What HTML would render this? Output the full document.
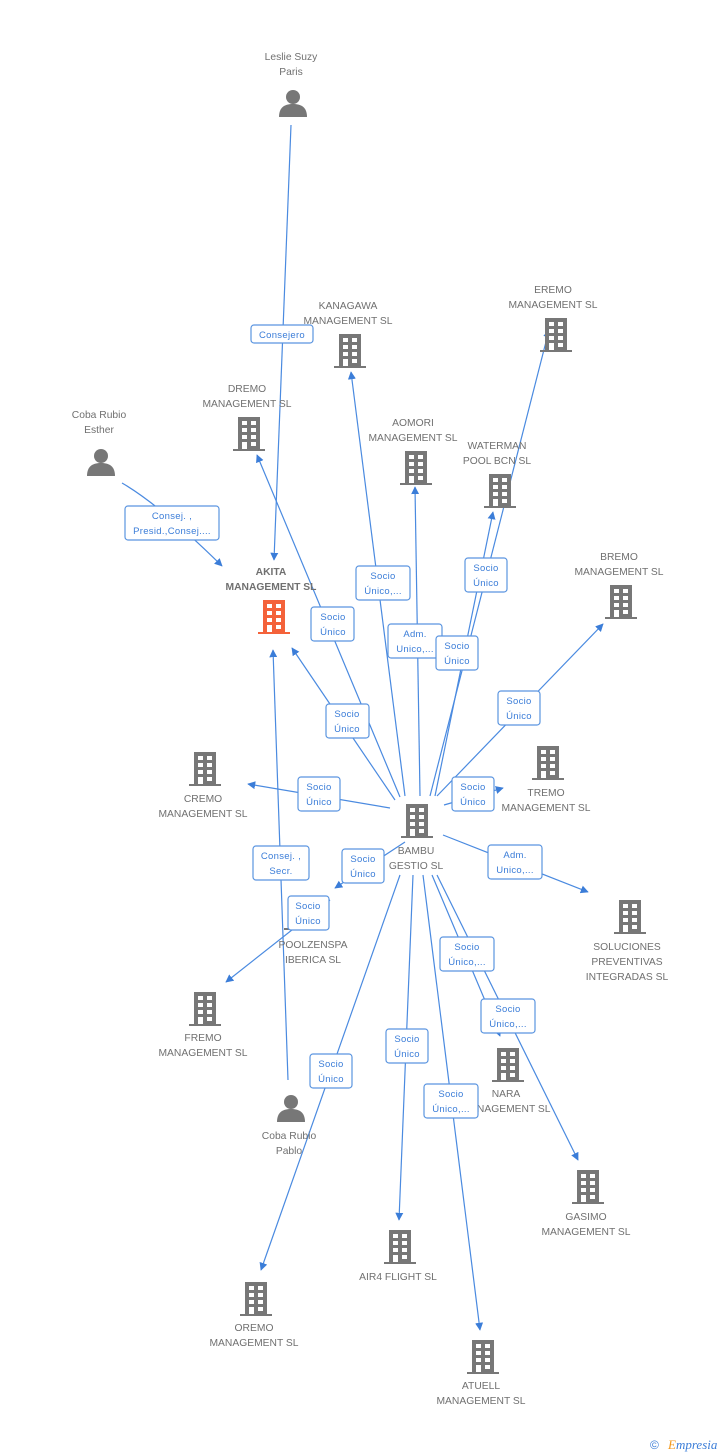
<!DOCTYPE html>
<html><head><meta charset="utf-8"><style>
html,body{margin:0;padding:0;background:#fff;}
svg{display:block;}
.n{font-family:"Liberation Sans",sans-serif;font-size:10.3px;fill:#707070;text-anchor:middle;}
.b{font-weight:bold;}
.l{font-family:"Liberation Sans",sans-serif;font-size:9.5px;fill:#3b7dd8;text-anchor:middle;letter-spacing:0.3px;}
.e{stroke:#4a8ae0;stroke-width:1.2;fill:none;}
.r{fill:#fff;stroke:#5b95e0;stroke-width:1.2;}
</style></head><body>
<svg width="728" height="1455" viewBox="0 0 728 1455" xmlns="http://www.w3.org/2000/svg">
<defs>
<symbol id="bd" viewBox="0 0 32 34">
<rect x="5" y="0" width="22" height="32" fill="currentColor"/>
<rect x="0" y="32" width="32" height="2" fill="currentColor"/>
<g fill="#fff"><rect x="9" y="4" width="5" height="4"/><rect x="18" y="4" width="5" height="4"/>
<rect x="9" y="11" width="5" height="4"/><rect x="18" y="11" width="5" height="4"/>
<rect x="9" y="18" width="5" height="4"/><rect x="18" y="18" width="5" height="4"/>
<rect x="9" y="25" width="5" height="7"/><rect x="18" y="25" width="5" height="4"/></g>
</symbol>
<symbol id="ps" viewBox="0 0 28 28">
<circle cx="14" cy="8" r="7" fill="#777"/>
<path d="M0 28 C0 18 6 15 14 15 C22 15 28 18 28 28Z" fill="#777"/>
</symbol>
<marker id="a" viewBox="0 0 10 10" refX="9" refY="5" markerWidth="8" markerHeight="8" orient="auto-start-reverse" markerUnits="userSpaceOnUse"><path d="M0 0L10 5L0 10Z" fill="#3b7dd8"/></marker>
</defs>

<g class="e" marker-end="url(#a)">
<line x1="291" y1="125" x2="274" y2="560"/>
<path d="M122 483 Q160 505 222 566"/>
<line x1="288" y1="1080" x2="273" y2="650"/>
<line x1="405" y1="796" x2="351" y2="372"/>
<line x1="430" y1="796" x2="549" y2="330"/>
<line x1="400" y1="797" x2="257" y2="455"/>
<line x1="420" y1="796" x2="415" y2="487"/>
<line x1="435" y1="796" x2="493" y2="512"/>
<line x1="395" y1="800" x2="292" y2="648"/>
<line x1="437" y1="796" x2="603" y2="624"/>
<line x1="390" y1="808" x2="248" y2="784"/>
<line x1="444" y1="805" x2="503" y2="788"/>
<line x1="443" y1="835" x2="588" y2="892"/>
<line x1="405" y1="842" x2="335" y2="888"/>
<line x1="330" y1="900" x2="226" y2="982"/>
<line x1="432" y1="875" x2="500" y2="1036"/>
<line x1="437" y1="875" x2="578" y2="1160"/>
<line x1="413" y1="875" x2="399" y2="1220"/>
<line x1="400" y1="875" x2="261" y2="1270"/>
<line x1="423" y1="875" x2="480" y2="1330"/>
</g>

<g style="color:#777">
<use href="#bd" x="334" y="334" width="32" height="34"/>
<use href="#bd" x="540" y="318" width="32" height="34"/>
<use href="#bd" x="233" y="417" width="32" height="34"/>
<use href="#bd" x="400" y="451" width="32" height="34"/>
<use href="#bd" x="484" y="474" width="32" height="34"/>
<use href="#bd" x="605" y="585" width="32" height="34"/>
<use href="#bd" x="189" y="752" width="32" height="34"/>
<use href="#bd" x="532" y="746" width="32" height="34"/>
<use href="#bd" x="401" y="804" width="32" height="34"/>
<use href="#bd" x="614" y="900" width="32" height="34"/>
<use href="#bd" x="284" y="896" width="32" height="34"/>
<use href="#bd" x="189" y="992" width="32" height="34"/>
<use href="#bd" x="492" y="1048" width="32" height="34"/>
<use href="#bd" x="572" y="1170" width="32" height="34"/>
<use href="#bd" x="384" y="1230" width="32" height="34"/>
<use href="#bd" x="240" y="1282" width="32" height="34"/>
<use href="#bd" x="467" y="1340" width="32" height="34"/>
</g>
<use href="#bd" x="258" y="600" width="32" height="34" style="color:#f4623a"/>
<use href="#ps" x="279" y="89" width="28" height="28"/>
<use href="#ps" x="87" y="448" width="28" height="28"/>
<use href="#ps" x="277" y="1094" width="28" height="28"/>

<text class="n" x="291" y="60">Leslie Suzy</text><text class="n" x="291" y="75">Paris</text>
<text class="n" x="348" y="309">KANAGAWA</text><text class="n" x="348" y="324">MANAGEMENT SL</text>
<text class="n" x="553" y="293">EREMO</text><text class="n" x="553" y="308">MANAGEMENT SL</text>
<text class="n" x="247" y="392">DREMO</text><text class="n" x="247" y="407">MANAGEMENT SL</text>
<text class="n" x="413" y="426">AOMORI</text><text class="n" x="413" y="441">MANAGEMENT SL</text>
<text class="n" x="497" y="449">WATERMAN</text><text class="n" x="497" y="464">POOL BCN  SL</text>
<text class="n" x="99" y="418">Coba Rubio</text><text class="n" x="99" y="433">Esther</text>
<text class="n b" x="271" y="575">AKITA</text><text class="n b" x="271" y="590">MANAGEMENT SL</text>
<text class="n" x="619" y="560">BREMO</text><text class="n" x="619" y="575">MANAGEMENT SL</text>
<text class="n" x="203" y="802">CREMO</text><text class="n" x="203" y="817">MANAGEMENT SL</text>
<text class="n" x="546" y="796">TREMO</text><text class="n" x="546" y="811">MANAGEMENT SL</text>
<text class="n" x="416" y="854">BAMBU</text><text class="n" x="416" y="869">GESTIO SL</text>
<text class="n" x="627" y="950">SOLUCIONES</text><text class="n" x="627" y="965">PREVENTIVAS</text><text class="n" x="627" y="980">INTEGRADAS SL</text>
<text class="n" x="313" y="948">POOLZENSPA</text><text class="n" x="313" y="963">IBERICA  SL</text>
<text class="n" x="203" y="1041">FREMO</text><text class="n" x="203" y="1056">MANAGEMENT SL</text>
<text class="n" x="506" y="1097">NARA</text><text class="n" x="506" y="1112">MANAGEMENT SL</text>
<text class="n" x="289" y="1139">Coba Rubio</text><text class="n" x="289" y="1154">Pablo</text>
<text class="n" x="586" y="1220">GASIMO</text><text class="n" x="586" y="1235">MANAGEMENT SL</text>
<text class="n" x="398" y="1280">AIR4 FLIGHT  SL</text>
<text class="n" x="254" y="1331">OREMO</text><text class="n" x="254" y="1346">MANAGEMENT SL</text>
<text class="n" x="481" y="1389">ATUELL</text><text class="n" x="481" y="1404">MANAGEMENT SL</text>

<g>
<rect class="r" x="251" y="325" width="62" height="18" rx="3"/><text class="l" x="282" y="338">Consejero</text>
<rect class="r" x="125" y="506" width="94" height="34" rx="3"/><text class="l" x="172" y="519">Consej. ,</text><text class="l" x="172" y="534">Presid.,Consej....</text>
<rect class="r" x="356" y="566" width="54" height="34" rx="3"/><text class="l" x="383" y="579">Socio</text><text class="l" x="383" y="594">Único,...</text>
<rect class="r" x="311" y="607" width="43" height="34" rx="3"/><text class="l" x="333" y="620">Socio</text><text class="l" x="333" y="635">Único</text>
<rect class="r" x="388" y="624" width="54" height="34" rx="3"/><text class="l" x="415" y="637">Adm.</text><text class="l" x="415" y="652">Unico,...</text>
<rect class="r" x="465" y="558" width="42" height="34" rx="3"/><text class="l" x="486" y="571">Socio</text><text class="l" x="486" y="586">Único</text>
<rect class="r" x="436" y="636" width="42" height="34" rx="3"/><text class="l" x="457" y="649">Socio</text><text class="l" x="457" y="664">Único</text>
<rect class="r" x="326" y="704" width="43" height="34" rx="3"/><text class="l" x="347" y="717">Socio</text><text class="l" x="347" y="732">Único</text>
<rect class="r" x="498" y="691" width="42" height="34" rx="3"/><text class="l" x="519" y="704">Socio</text><text class="l" x="519" y="719">Único</text>
<rect class="r" x="298" y="777" width="42" height="34" rx="3"/><text class="l" x="319" y="790">Socio</text><text class="l" x="319" y="805">Único</text>
<rect class="r" x="452" y="777" width="42" height="34" rx="3"/><text class="l" x="473" y="790">Socio</text><text class="l" x="473" y="805">Único</text>
<rect class="r" x="253" y="846" width="56" height="34" rx="3"/><text class="l" x="281" y="859">Consej. ,</text><text class="l" x="281" y="874">Secr.</text>
<rect class="r" x="342" y="849" width="42" height="34" rx="3"/><text class="l" x="363" y="862">Socio</text><text class="l" x="363" y="877">Único</text>
<rect class="r" x="488" y="845" width="54" height="34" rx="3"/><text class="l" x="515" y="858">Adm.</text><text class="l" x="515" y="873">Unico,...</text>
<rect class="r" x="288" y="896" width="41" height="34" rx="3"/><text class="l" x="308" y="909">Socio</text><text class="l" x="308" y="924">Único</text>
<rect class="r" x="440" y="937" width="54" height="34" rx="3"/><text class="l" x="467" y="950">Socio</text><text class="l" x="467" y="965">Único,...</text>
<rect class="r" x="481" y="999" width="54" height="34" rx="3"/><text class="l" x="508" y="1012">Socio</text><text class="l" x="508" y="1027">Único,...</text>
<rect class="r" x="386" y="1029" width="42" height="34" rx="3"/><text class="l" x="407" y="1042">Socio</text><text class="l" x="407" y="1057">Único</text>
<rect class="r" x="310" y="1054" width="42" height="34" rx="3"/><text class="l" x="331" y="1067">Socio</text><text class="l" x="331" y="1082">Único</text>
<rect class="r" x="424" y="1084" width="54" height="34" rx="3"/><text class="l" x="451" y="1097">Socio</text><text class="l" x="451" y="1112">Único,...</text>
</g>

<text x="650" y="1449" style="font-family:'Liberation Sans',sans-serif;font-size:12px;fill:#3b7dd8">©</text>
<text x="668" y="1449" style="font-family:'Liberation Serif',serif;font-size:13px;font-style:italic;fill:#3b7dd8"><tspan fill="#f39a1e">E</tspan>mpresia</text>
</svg>
</body></html>
